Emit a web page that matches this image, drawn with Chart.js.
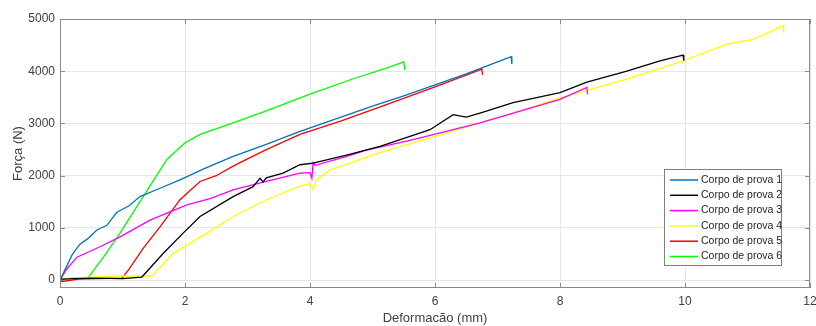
<!DOCTYPE html>
<html lang="pt">
<head>
    <meta charset="UTF-8">
    <title>Força x Deformação</title>
    <style>
        body { margin: 0; background: #fff; }
        #wrap { width: 816px; height: 326px; }
    </style>
</head>
<body>
    <div id="wrap"><canvas id="chart" width="816" height="326"></canvas></div>

    <script src="https://cdn.jsdelivr.net/npm/chart.js"></script>
    <script>
        // Deformação (mm) / Força (N)
        const labels = ['Corpo de prova 1', 'Corpo de prova 2', 'Corpo de prova 3',
                        'Corpo de prova 4', 'Corpo de prova 5', 'Corpo de prova 6'];
        const colors = ['#0072BD', '#000000', '#FF00FF', '#FFFF00', '#FF0000', '#00FF00'];

        const def1 = [0, 0.1, 0.2, 0.32, 0.45, 0.59, 0.75, 0.91, 1.1, 1.28, 1.6, 1.92, 2.3, 2.77, 3.3, 3.84, 4.3, 5.0, 5.5, 6.0, 6.5, 7.0, 7.22, 7.23];
        const for1 = [0, 250, 500, 690, 800, 960, 1050, 1300, 1420, 1600, 1760, 1920, 2130, 2370, 2600, 2850, 3040, 3330, 3530, 3740, 3950, 4180, 4280, 4140];

        const def2 = [0, 0.5, 1.0, 1.31, 1.65, 1.97, 2.24, 2.77, 3.09, 3.2, 3.25, 3.3, 3.57, 3.84, 4.05, 4.6, 5.12, 5.92, 6.29, 6.5, 6.72, 7.25, 8.0, 8.43, 9.07, 9.6, 9.97, 9.98];
        const for2 = [20, 40, 30, 60, 510, 900, 1220, 1600, 1790, 1950, 1880, 1960, 2050, 2210, 2240, 2400, 2560, 2880, 3170, 3120, 3200, 3400, 3590, 3790, 4000, 4200, 4310, 4200];

        const def3 = [0, 0.1, 0.27, 0.64, 0.96, 1.44, 2.03, 2.4, 2.77, 3.3, 3.84, 4.0, 4.03, 4.05, 4.08, 4.59, 4.9, 5.65, 6.72, 8.0, 8.43, 8.44];
        const for3 = [0, 200, 440, 640, 830, 1150, 1440, 1560, 1730, 1890, 2050, 2060, 1950, 2250, 2200, 2370, 2490, 2690, 3010, 3460, 3690, 3560];

        const def4 = [0, 0.5, 1.0, 1.47, 1.81, 2.03, 2.35, 2.77, 3.3, 3.84, 4.0, 4.05, 4.1, 4.32, 5.12, 6.19, 7.25, 8.0, 9.07, 9.97, 10.67, 11.09, 11.57, 11.58];
        const for4 = [20, 60, 80, 80, 510, 670, 900, 1220, 1540, 1800, 1850, 1730, 1920, 2110, 2440, 2820, 3200, 3490, 3850, 4200, 4520, 4610, 4870, 4730];

        const def5 = [0, 0.3, 0.6, 0.99, 1.1, 1.33, 1.6, 1.92, 2.24, 2.5, 2.72, 2.88, 3.3, 3.84, 4.5, 5.2, 6.0, 6.75, 6.76];
        const for5 = [-30, 20, 30, 40, 200, 610, 1020, 1540, 1890, 2000, 2150, 2250, 2500, 2790, 3050, 3350, 3700, 4040, 3930];

        const def6 = [0, 0.2, 0.45, 0.7, 0.96, 1.33, 1.71, 2.0, 2.24, 2.77, 3.3, 3.84, 4.0, 4.75, 5.2, 5.5, 5.52];
        const for6 = [0, 40, 50, 450, 900, 1600, 2310, 2630, 2790, 3010, 3240, 3490, 3560, 3880, 4050, 4180, 4020];

        const xTicks = [0, 2, 4, 6, 8, 10, 12];
        const yTicks = [0, 1000, 2000, 3000, 4000, 5000];

        const defs = [def1, def2, def3, def4, def5, def6];
        const forcas = [for1, for2, for3, for4, for5, for6];

        const datasets = labels.map((label, i) => ({
            label: label,
            data: defs[i].map((x, j) => ({ x: x, y: forcas[i][j] })),
            borderColor: colors[i],
            backgroundColor: colors[i],
            borderWidth: 1.3,
            pointRadius: 0,
            showLine: true,
            tension: 0
        }));

        // caixa em volta da area do grafico, marcas para dentro + legenda
        const boxPlugin = {
            id: 'boxAndLegend',
            afterDraw(chart) {
                const ctx = chart.ctx;
                const a = chart.chartArea;
                const sx = chart.scales.x, sy = chart.scales.y;
                ctx.save();
                ctx.strokeStyle = '#8a8a8a';
                ctx.lineWidth = 1;
                ctx.strokeRect(a.left + 0.5, a.top + 0.5, a.right - a.left - 1, a.bottom - a.top - 1);

                ctx.beginPath();
                xTicks.forEach(v => {
                    const px = Math.round(sx.getPixelForValue(v)) + 0.5;
                    ctx.moveTo(px, a.bottom); ctx.lineTo(px, a.bottom - 5);
                    ctx.moveTo(px, a.top); ctx.lineTo(px, a.top + 5);
                });
                yTicks.forEach(v => {
                    const py = Math.round(sy.getPixelForValue(v)) + 0.5;
                    ctx.moveTo(a.left, py); ctx.lineTo(a.left + 5, py);
                    ctx.moveTo(a.right, py); ctx.lineTo(a.right - 5, py);
                });
                ctx.stroke();

                // legenda
                const bx = a.right - 146, by = a.bottom - 119, bw = 117, bh = 96;
                ctx.fillStyle = '#fff';
                ctx.fillRect(bx, by, bw, bh);
                ctx.strokeStyle = '#7f7f7f';
                ctx.strokeRect(bx + 0.5, by + 0.5, bw, bh);
                ctx.font = '10.5px "Liberation Sans", Arial, sans-serif';
                ctx.textBaseline = 'middle';
                chart.data.datasets.forEach((ds, i) => {
                    const yy = by + 11 + i * 15.3;
                    ctx.strokeStyle = ds.borderColor;
                    ctx.lineWidth = 1.5;
                    ctx.beginPath();
                    ctx.moveTo(bx + 6, yy);
                    ctx.lineTo(bx + 34, yy);
                    ctx.stroke();
                    ctx.fillStyle = '#262626';
                    ctx.fillText(ds.label, bx + 37, yy);
                });
                ctx.restore();
            }
        };

        const chart = new Chart(document.getElementById('chart').getContext('2d'), {
            type: 'scatter',
            data: { datasets: datasets },
            options: {
                responsive: false,
                animation: false,
                layout: { padding: { top: 19, right: 0, left: 0, bottom: 0 } },
                plugins: {
                    legend: { display: false },
                    tooltip: { enabled: false }
                },
                scales: {
                    x: {
                        type: 'linear',
                        min: 0,
                        max: 12,
                        afterBuildTicks: s => { s.ticks = xTicks.map(v => ({ value: v })); },
                        afterFit: s => { s.height = 38; s.paddingRight = 6; s.paddingLeft = 0; },
                        grid: { color: '#e6e6e6', drawTicks: false },
                        border: { display: false },
                        ticks: {
                            color: '#404040',
                            padding: 6,
                            maxRotation: 0,
                            callback: v => String(v),
                            font: { family: '"Liberation Sans", Arial, sans-serif', size: 12 }
                        },
                        title: {
                            display: true,
                            text: 'Deformacão (mm)',
                            color: '#404040',
                            padding: { top: 0, bottom: 0 },
                            font: { family: '"Liberation Sans", Arial, sans-serif', size: 13 }
                        }
                    },
                    y: {
                        type: 'linear',
                        min: -150,
                        max: 5000,
                        afterBuildTicks: s => { s.ticks = yTicks.map(v => ({ value: v })); },
                        afterFit: s => { s.width = 60; },
                        grid: { color: '#e6e6e6', drawTicks: false },
                        border: { display: false },
                        ticks: {
                            color: '#404040',
                            padding: 5,
                            callback: v => String(v),
                            font: { family: '"Liberation Sans", Arial, sans-serif', size: 12 }
                        },
                        title: {
                            display: true,
                            text: 'Força (N)',
                            color: '#404040',
                            padding: { top: 11, bottom: 4 },
                            font: { family: '"Liberation Sans", Arial, sans-serif', size: 13 }
                        }
                    }
                }
            },
            plugins: [boxPlugin]
        });
    </script>
</body>
</html>
